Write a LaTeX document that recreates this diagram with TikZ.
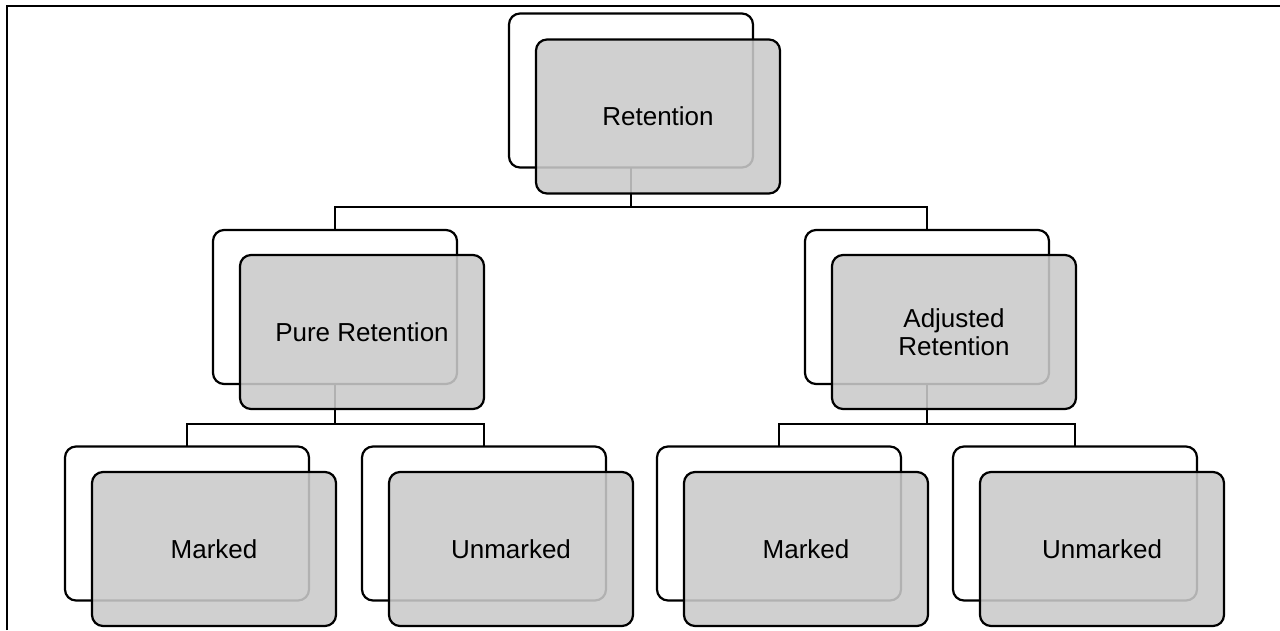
\documentclass[tikz,border=0pt]{standalone}
\usepackage{fontspec}
\setmainfont{Liberation Sans}
\begin{document}
\begin{tikzpicture}[x=1pt,y=-1pt,
  backbox/.style={draw=black, line width=2.2pt, fill=white, rounded corners=11pt,
    minimum width=244pt, minimum height=154pt, inner sep=0pt, outer sep=0pt},
  frontbox/.style={draw=black, line width=2.2pt,
    fill={rgb,255:red,202;green,202;blue,202}, fill opacity=0.88, text opacity=1,
    rounded corners=11pt, minimum width=244pt, minimum height=154pt,
    inner sep=0pt, outer sep=0pt, align=center,
    font=\fontsize{26}{28}\selectfont},
  link/.style={draw=black, line width=2.2pt}]
\useasboundingbox (0,0) rectangle (1280,630);
% frame
\draw[line width=2.2pt] (7,630) -- (7,6) -- (1280,6);

% back boxes
\node[backbox] (rb) at (631,90.5) {};
\node[backbox] (pb) at (335,307) {};
\node[backbox] (ab) at (927,307) {};
\node[backbox] (m1b) at (187,523.5) {};
\node[backbox] (u1b) at (484,523.5) {};
\node[backbox] (m2b) at (779,523.5) {};
\node[backbox] (u2b) at (1075,523.5) {};

% bar levels
\coordinate (bar1) at (0,207);
\coordinate (bar2) at (0,424);

% connectors
\draw[link] (rb.south) -- (rb.south |- bar1) -| (pb.north);
\draw[link] (rb.south |- bar1) -| (ab.north);
\draw[link] (pb.south) -- (pb.south |- bar2) -| (m1b.north);
\draw[link] (pb.south |- bar2) -| (u1b.north);
\draw[link] (ab.south) -- (ab.south |- bar2) -| (m2b.north);
\draw[link] (ab.south |- bar2) -| (u2b.north);

% front boxes
\node[frontbox] (rf) at (658,116.5) {Retention};
\node[frontbox] (pf) at (362,332) {Pure Retention};
\node[frontbox] (af) at (954,332) {Adjusted\\Retention};
\node[frontbox] (m1f) at (214,549) {Marked};
\node[frontbox] (u1f) at (511,549) {Unmarked};
\node[frontbox] (m2f) at (806,549) {Marked};
\node[frontbox] (u2f) at (1102,549) {Unmarked};
\end{tikzpicture}
\end{document}
